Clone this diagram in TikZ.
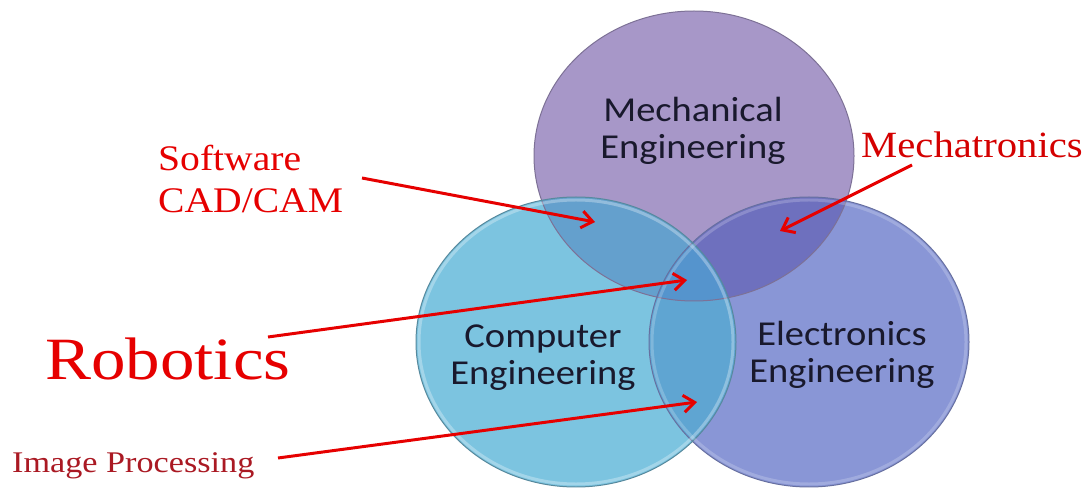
\documentclass[tikz,border=0pt]{standalone}
\usepackage{fontspec}
\usepackage{graphicx}
\setmainfont{Liberation Serif}
\newfontfamily\calibri{Carlito}
\usetikzlibrary{arrows.meta,positioning}
\definecolor{mpurple}{RGB}{167,151,200}
\definecolor{mcyan}{RGB}{124,196,224}
\definecolor{mindigo}{RGB}{137,150,214}
\definecolor{mmc}{RGB}{100,160,205}
\definecolor{mme}{RGB}{110,112,190}
\definecolor{mce}{RGB}{95,165,210}
\definecolor{mmce}{RGB}{85,148,205}
\definecolor{lred}{RGB}{230,0,0}
\definecolor{dred}{RGB}{170,25,35}
\definecolor{ink}{RGB}{25,25,45}
\tikzstyle{venn}=[x radius=160, y radius=145]
\tikzstyle{rim}=[line width=1]
\tikzstyle{circtext}=[font=\calibri\fontsize{35bp}{37bp}\selectfont, text=ink, align=center]
\tikzstyle{lbl}=[font=\fontsize{36bp}{42bp}\selectfont, text=lred, inner sep=0]
\tikzstyle{pointer}=[line width=3, draw=lred, -{Straight Barb[length=11bp,width=17bp]}]
\newcommand{\wide}[2][1.1]{\scalebox{#1}[1]{#2}}
\begin{document}
\begin{tikzpicture}[x=1bp, y=-1bp]

    \useasboundingbox (0,0) rectangle (1087,491);
    \fill[white] (0,0) rectangle (1087,491);

    \coordinate (mech) at (694,156);
    \coordinate (comp) at (576,342);
    \coordinate (elec) at (809,342);

    % plain discs
    \fill[mpurple] (mech) ellipse[venn];
    \fill[mcyan] (comp) ellipse[venn];
    \fill[mindigo] (elec) ellipse[venn];
    % overlaps
    \begin{scope}
        \clip (comp) ellipse[venn];
        \fill[mce] (elec) ellipse[venn];
    \end{scope}
    \begin{scope}
        \clip (mech) ellipse[venn];
        \fill[mmc] (comp) ellipse[venn];
        \fill[mme] (elec) ellipse[venn];
        \clip (comp) ellipse[venn];
        \fill[mmce] (elec) ellipse[venn];
    \end{scope}
    \draw[rim, mpurple!75!black] (mech) ellipse[venn];
    \draw[rim, mindigo!75!black] (elec) ellipse[venn];
    \draw[rim, mcyan!70!black] (comp) ellipse[venn];
    \draw[white, opacity=.3, line width=3] (comp) ellipse[x radius=157, y radius=142];
    \draw[white, opacity=.2, line width=3] (elec) ellipse[x radius=157, y radius=142];

    \node[circtext] (mtext) at (693,131) {\wide{Mechanical}\\\wide{Engineering}};
    \node[circtext] (ctext) at (543,358) {\wide{Computer}\\\wide{Engineering}};
    \node[circtext] (etext) at (842,355) {\wide{Electronics}\\\wide{Engineering}};

    \node[lbl, anchor=north west, align=left] (soft) at (158,145) {\wide{Software}\\\wide{CAD/CAM}};
    \node[lbl, anchor=base west, font=\fontsize{60bp}{70bp}\selectfont] (robo) at (45,380) {\wide[1.15]{Robotics}};
    \node[lbl, anchor=base west, font=\fontsize{30bp}{36bp}\selectfont, text=dred] (image) at (12,472) {\wide[1.14]{Image Processing}};
    \node[lbl, anchor=base west, font=\fontsize{37bp}{44bp}\selectfont, text=lred!92!black] (mtron) at (861,158) {\wide{Mechatronics}};

    \coordinate (softtail) at (362,178);
    \coordinate (softtip) at (595,222);
    \coordinate (mtrontail) at (912,165);
    \coordinate (mtrontip) at (780,231);
    \coordinate (robotail) at (268,337);
    \coordinate (robotip) at (687,280);
    \coordinate (imagetail) at (278,458);
    \coordinate (imagetip) at (697,402);
    \draw[pointer] (softtail) -- (softtip);
    \draw[pointer] (mtrontail) -- (mtrontip);
    \draw[pointer] (robotail) -- (robotip);
    \draw[pointer] (imagetail) -- (imagetip);

\end{tikzpicture}
\end{document}
